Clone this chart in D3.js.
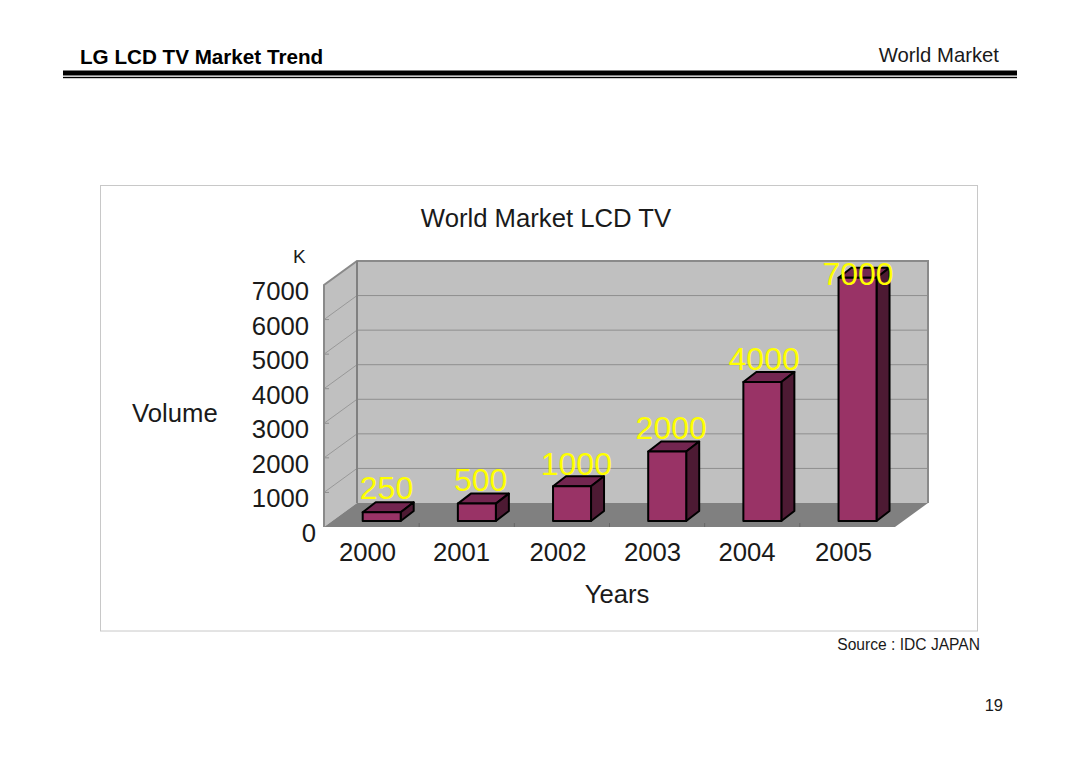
<!DOCTYPE html>
<html><head><meta charset="utf-8">
<script src="https://cdn.jsdelivr.net/npm/d3@7/dist/d3.min.js"></script>
<style>html,body{margin:0;padding:0;background:#fff}svg{display:block}text{font-family:"Liberation Sans",Arial,sans-serif}</style>
</head><body><svg id="c" width="1080" height="763"></svg>
<script>
const years = ["2000","2001","2002","2003","2004","2005"];
const volumes = [250,500,1000,2000,4000,7000];
const yTicks = [0,1000,2000,3000,4000,5000,6000,7000];
const yearNudge = [-0.5,-1.7,-0.4,-1,-1.7,-0.4];
const valueNudgeX = [4.8,3.8,4.3,4,1.8,0.5];
const valueNudgeY = [-13.5,-13,-11,-12,-12.4,7.5];

const svg = d3.select("#c");
const W = 33, H = 24;                 // wall depth offset
const x = d3.scaleBand().domain(years).range([324,895]);
const yWall = d3.scaleLinear().domain([0,7000]).range([527,285]);
const yBar = d3.scaleLinear().domain([0,7000]).range([521,277.7]);
const txt = (t,px,py,size,o={}) => svg.append("text").attr("x",px).attr("y",py).attr("font-size",size)
  .attr("fill",o.fill||"#000").attr("font-weight",o.weight||"normal").attr("text-anchor",o.anchor||"start").text(t);

// header
svg.append("rect").attr("x",63).attr("y",70.5).attr("width",954).attr("height",5).attr("fill","#000");
svg.append("rect").attr("x",63).attr("y",76.8).attr("width",954).attr("height",1.4).attr("fill","#000");
txt("LG LCD TV Market Trend",80,64,20.65,{weight:"bold"});
txt("World Market",999,62,20.3,{anchor:"end",fill:"#1a1a1a"});

// panel
svg.append("rect").attr("x",100.5).attr("y",185.5).attr("width",877).attr("height",445.5).attr("fill","#fff").attr("stroke","#c8c8c8");
txt("World Market LCD TV",546,227,25.7,{anchor:"middle",fill:"#1a1a1a"});
txt("K",293,263,19,{fill:"#1a1a1a"});
txt("Volume",132,422,25.7,{fill:"#1a1a1a"});
txt("Years",617,603,25.7,{anchor:"middle",fill:"#1a1a1a"});
txt("Source : IDC JAPAN",980,650,15.6,{anchor:"end",fill:"#1a1a1a"});
txt("19",1003,711,16.5,{anchor:"end",fill:"#1a1a1a"});

// walls
const xL = x.range()[0], xR = x.range()[1], y0 = yWall(0), y7 = yWall(7000);
const poly = (pts,fill,stroke,sw) => svg.append("polygon").attr("points",pts.map(p=>p.join(",")).join(" "))
  .attr("fill",fill).attr("stroke",stroke||"none").attr("stroke-width",sw||0);
poly([[xL+W,y7-H],[xR+W,y7-H],[xR+W,y0-H],[xL+W,y0-H]],"#c0c0c0");
poly([[xL,y7],[xL+W,y7-H],[xL+W,y0-H],[xL,y0]],"#c0c0c0");
// grid
const inner = yTicks.slice(1,-1);
svg.append("g").selectAll("line").data(inner).join("line")
  .attr("x1",xL+W).attr("x2",xR+W).attr("y1",d=>yWall(d)-H).attr("y2",d=>yWall(d)-H)
  .attr("stroke","#8e8e8e").attr("stroke-width",1);
svg.append("g").selectAll("line").data(inner).join("line")
  .attr("x1",xL).attr("x2",xL+W).attr("y1",d=>yWall(d)).attr("y2",d=>yWall(d)-H)
  .attr("stroke","#8e8e8e").attr("stroke-width",0.8);
svg.append("g").selectAll("line").data(inner).join("line")
  .attr("x1",xL).attr("x2",xL+5).attr("y1",d=>yWall(d)).attr("y2",d=>yWall(d))
  .attr("stroke","#8e8e8e").attr("stroke-width",1);
// floor
poly([[xL,y0],[xL+W,y0-H],[xR+W,y0-H],[xR,y0]],"#808080");
// wall borders
svg.append("path").attr("fill","none").attr("stroke","#8a8a8a").attr("stroke-width",2)
  .attr("d",`M${xL},${y0}V${y7}L${xL+W},${y7-H}H${xR+W}V${y0-H}`);
svg.append("path").attr("fill","none").attr("stroke","#808080").attr("stroke-width",2)
  .attr("d",`M${xL+W},${y7-H}V${y0-H}`);
// floor ticks
svg.append("g").selectAll("line").data(years.slice(1)).join("line")
  .attr("x1",d=>x(d)).attr("x2",d=>x(d)).attr("y1",y0-4).attr("y2",y0)
  .attr("stroke","#666");

// bars
const bw = 38, dx = 13, dy = 10, off = 38.7;
const bars = svg.append("g").selectAll("g").data(years).join("g");
bars.each(function(yr,i){
  const g = d3.select(this), l = x(yr)+off, r = l+bw, t = yBar(volumes[i]), b = yBar(0);
  const face = (pts,fill) => g.append("polygon").attr("points",pts.map(p=>p.join(",")).join(" "))
    .attr("fill",fill).attr("stroke","#000").attr("stroke-width",2).attr("stroke-linejoin","round");
  face([[l,t],[r,t],[r+dx,t-dy],[l+dx,t-dy]],"#732650");
  face([[r,t],[r+dx,t-dy],[r+dx,b-dy],[r,b]],"#4d1a33");
  face([[l,t],[r,t],[r,b],[l,b]],"#993366");
});

// y labels
svg.append("g").selectAll("text").data(yTicks).join("text")
  .attr("x",d=>d===0?316:309).attr("y",d=>yWall(d)+15)
  .attr("text-anchor","end").attr("font-size",25.7).attr("fill","#1a1a1a").text(d=>d);
// x labels
svg.append("g").selectAll("text").data(years).join("text")
  .attr("x",(d,i)=>x(d)+x.bandwidth()/2-3.5+yearNudge[i]).attr("y",560.5)
  .attr("text-anchor","middle").attr("font-size",25.7).attr("fill","#1a1a1a").text(d=>d);
// data labels
svg.append("g").selectAll("text").data(years).join("text")
  .attr("x",(d,i)=>x(d)+off+bw/2+valueNudgeX[i]).attr("y",(d,i)=>yBar(volumes[i])+valueNudgeY[i])
  .attr("text-anchor","middle").attr("font-size",32).attr("fill","#ffff00").text((d,i)=>volumes[i]);
</script></body></html>
